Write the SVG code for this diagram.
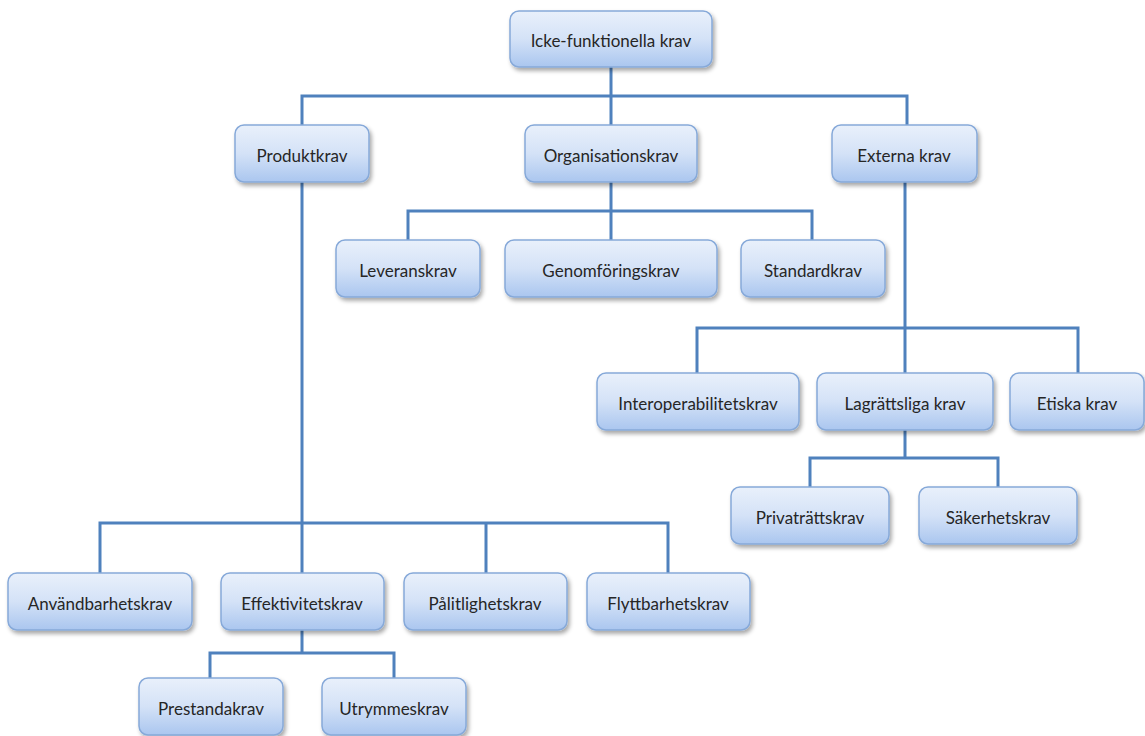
<svg xmlns="http://www.w3.org/2000/svg" width="1145" height="736" viewBox="0 0 1145 736">
<defs>
<linearGradient id="g" x1="0" y1="0" x2="0" y2="1">
<stop offset="0" stop-color="#e9f0fb"/>
<stop offset="0.5" stop-color="#d4e2f7"/>
<stop offset="1" stop-color="#aac6ef"/>
</linearGradient>
<filter id="sh" x="-10%" y="-20%" width="130%" height="160%">
<feDropShadow dx="2" dy="3" stdDeviation="2" flood-color="#000" flood-opacity="0.35"/>
</filter>
<style>
.n rect{fill:url(#g);stroke:#86a9d9;stroke-width:1.5;filter:url(#sh)}
.n text{font-family:Lato,"Liberation Sans",sans-serif;font-size:17px;fill:#262626;text-anchor:middle}
.c path{fill:none;stroke:#4f81bd;stroke-width:3}
</style>
</defs>
<rect width="1145" height="736" fill="#fff"/>
<g class="c" id="connectors">
<path d="M611 67V96M302 125V96H907V125M611 96V125"/>
<path d="M611 182V211M408 240V211H812V240M611 211V240"/>
<path d="M905 182V373M697 373V328H1078V373"/>
<path d="M905 430V458M810 487V458H998V487"/>
<path d="M302 182V573M100 573V523H668V573M486 523V573"/>
<path d="M302 630V653M210 678V653H394V678"/>
</g>
<g class="n" id="n-icke"><rect x="510" y="11" width="202" height="56" rx="9"/><text x="611" y="47">Icke-funktionella krav</text></g>
<g class="n" id="n-produkt"><rect x="235" y="125" width="134" height="57" rx="9"/><text x="302" y="162">Produktkrav</text></g>
<g class="n" id="n-org"><rect x="525" y="125" width="172" height="57" rx="9"/><text x="611" y="162">Organisationskrav</text></g>
<g class="n" id="n-externa"><rect x="832" y="125" width="145" height="57" rx="9"/><text x="904" y="162">Externa krav</text></g>
<g class="n" id="n-leverans"><rect x="336" y="240" width="144" height="57" rx="9"/><text x="408" y="277">Leveranskrav</text></g>
<g class="n" id="n-genomforing"><rect x="505" y="240" width="212" height="57" rx="9"/><text x="611" y="277">Genomföringskrav</text></g>
<g class="n" id="n-standard"><rect x="741" y="240" width="144" height="57" rx="9"/><text x="813" y="277">Standardkrav</text></g>
<g class="n" id="n-interop"><rect x="597" y="373" width="202" height="57" rx="9"/><text x="698" y="410">Interoperabilitetskrav</text></g>
<g class="n" id="n-lagratt"><rect x="817" y="373" width="176" height="57" rx="9"/><text x="905" y="410">Lagrättsliga krav</text></g>
<g class="n" id="n-etiska"><rect x="1010" y="373" width="134" height="57" rx="9"/><text x="1077" y="410">Etiska krav</text></g>
<g class="n" id="n-privat"><rect x="731" y="487" width="158" height="57" rx="9"/><text x="810" y="524">Privaträttskrav</text></g>
<g class="n" id="n-saker"><rect x="919" y="487" width="158" height="57" rx="9"/><text x="998" y="524">Säkerhetskrav</text></g>
<g class="n" id="n-anvand"><rect x="8" y="573" width="184" height="57" rx="9"/><text x="100" y="610">Användbarhetskrav</text></g>
<g class="n" id="n-effekt"><rect x="221" y="573" width="163" height="57" rx="9"/><text x="302" y="610">Effektivitetskrav</text></g>
<g class="n" id="n-palit"><rect x="404" y="573" width="163" height="57" rx="9"/><text x="485" y="610">Pålitlighetskrav</text></g>
<g class="n" id="n-flytt"><rect x="587" y="573" width="163" height="57" rx="9"/><text x="668" y="610">Flyttbarhetskrav</text></g>
<g class="n" id="n-prestanda"><rect x="139" y="678" width="144" height="57" rx="9"/><text x="211" y="715">Prestandakrav</text></g>
<g class="n" id="n-utrymme"><rect x="322" y="678" width="144" height="57" rx="9"/><text x="394" y="715">Utrymmeskrav</text></g>
</svg>
